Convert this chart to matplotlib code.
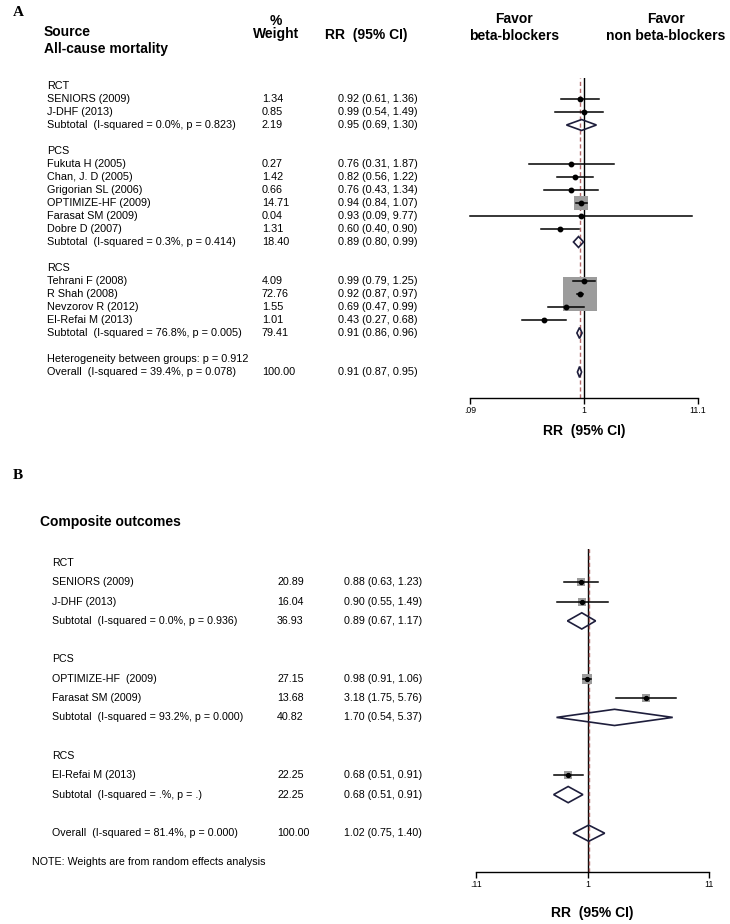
import matplotlib
matplotlib.use("Agg")
import numpy as np
import matplotlib.pyplot as plt
from matplotlib import transforms
from matplotlib.ticker import NullLocator

plt.rcParams['font.family'] = ['Liberation Sans', 'DejaVu Sans']

W, H = 730, 924

# ---- panel A : all-cause mortality ----
a_labels = ["RCT", "SENIORS (2009)", "J-DHF (2013)",
            "Subtotal  (I-squared = 0.0%, p = 0.823)", "",
            "PCS", "Fukuta H (2005)", "Chan, J. D (2005)", "Grigorian SL (2006)",
            "OPTIMIZE-HF (2009)", "Farasat SM (2009)", "Dobre D (2007)",
            "Subtotal  (I-squared = 0.3%, p = 0.414)", "",
            "RCS", "Tehrani F (2008)", "R Shah (2008)", "Nevzorov R (2012)", "El-Refai M (2013)",
            "Subtotal  (I-squared = 76.8%, p = 0.005)", "",
            "Heterogeneity between groups: p = 0.912",
            "Overall  (I-squared = 39.4%, p = 0.078)"]
a_kind = ["head", "study", "study", "sub", "blank",
          "head", "study", "study", "study", "study", "study", "study", "sub", "blank",
          "head", "study", "study", "study", "study", "sub", "blank",
          "head", "sub"]
a_weight = [None, 1.34, 0.85, 2.19, None,
            None, 0.27, 1.42, 0.66, 14.71, 0.04, 1.31, 18.40, None,
            None, 4.09, 72.76, 1.55, 1.01, 79.41, None,
            None, 100.00]
a_rr = [None, 0.92, 0.99, 0.95, None,
        None, 0.76, 0.82, 0.76, 0.94, 0.93, 0.60, 0.89, None,
        None, 0.99, 0.92, 0.69, 0.43, 0.91, None,
        None, 0.91]
a_lo = [None, 0.61, 0.54, 0.69, None,
        None, 0.31, 0.56, 0.43, 0.84, 0.09, 0.40, 0.80, None,
        None, 0.79, 0.87, 0.47, 0.27, 0.86, None,
        None, 0.87]
a_hi = [None, 1.36, 1.49, 1.30, None,
        None, 1.87, 1.22, 1.34, 1.07, 9.77, 0.90, 0.99, None,
        None, 1.25, 0.97, 0.99, 0.68, 0.96, None,
        None, 0.95]
a_ticks = [0.09, 1, 11.1]
a_ticklabels = [".09", "1", "11.1"]

# ---- panel B : composite outcomes ----
b_labels = ["RCT", "SENIORS (2009)", "J-DHF (2013)",
            "Subtotal  (I-squared = 0.0%, p = 0.936)", "",
            "PCS", "OPTIMIZE-HF  (2009)", "Farasat SM (2009)",
            "Subtotal  (I-squared = 93.2%, p = 0.000)", "",
            "RCS", "El-Refai M (2013)", "Subtotal  (I-squared = .%, p = .)", "",
            "Overall  (I-squared = 81.4%, p = 0.000)"]
b_kind = ["head", "study", "study", "sub", "blank",
          "head", "study", "study", "sub", "blank",
          "head", "study", "sub", "blank", "sub"]
b_weight = [None, 20.89, 16.04, 36.93, None,
            None, 27.15, 13.68, 40.82, None,
            None, 22.25, 22.25, None, 100.00]
b_rr = [None, 0.88, 0.90, 0.89, None, None, 0.98, 3.18, 1.70, None, None, 0.68, 0.68, None, 1.02]
b_lo = [None, 0.63, 0.55, 0.67, None, None, 0.91, 1.75, 0.54, None, None, 0.51, 0.51, None, 0.75]
b_hi = [None, 1.23, 1.49, 1.17, None, None, 1.06, 5.76, 5.37, None, None, 0.91, 0.91, None, 1.40]
b_ticks = [0.11, 1, 11]
b_ticklabels = [".11", "1", "11"]


def fx(px):
    return px / W


def fy(py):
    return 1 - py / H


def draw_panel(fig, x0, x1, row0, sp, top_row, bot_row, ticks, ticklabels,
               labels, kinds, weights, rr, lo, hi, cols, box_scale, dot, fs):
    rect = [fx(x0), fy(row0 + bot_row * sp), (x1 - x0) / W, (bot_row - top_row) * sp / H]
    ax = fig.add_axes(rect)
    ax.set_xscale('log')
    ax.set_xlim(ticks[0], ticks[-1])
    ax.set_ylim(bot_row, top_row)
    for s in ['top', 'left', 'right']:
        ax.spines[s].set_visible(False)
    ax.spines['bottom'].set_linewidth(1.0)
    ax.set_yticks([])
    ax.set_xticks(ticks)
    ax.set_xticklabels(ticklabels)
    ax.xaxis.set_minor_locator(NullLocator())
    ax.tick_params(axis='x', length=4, width=1.0, labelsize=6.3, pad=2)
    ax.patch.set_alpha(0)

    overall = rr[-1]
    ax.axvline(1, color='black', lw=1.0, zorder=1)
    ax.axvline(overall, color='#b56b6b', lw=1.0, ls=(0, (3, 2)), zorder=1)

    h = 0.42
    tr = transforms.blended_transform_factory(fig.transFigure, ax.transData)
    for i, lab in enumerate(labels):
        k = kinds[i]
        if k == 'blank':
            continue
        ax.text(fx(cols[0]), i, lab, transform=tr, ha='left', va='center', fontsize=fs)
        if weights[i] is None:
            continue
        ax.text(fx(cols[1]), i, "%.2f" % weights[i], transform=tr, ha='left', va='center', fontsize=fs)
        ax.text(fx(cols[2]), i, "%.2f (%.2f, %.2f)" % (rr[i], lo[i], hi[i]), transform=tr,
                ha='left', va='center', fontsize=fs)
        if k == 'study':
            side = box_scale * np.sqrt(weights[i]) * 0.72
            ax.scatter([rr[i]], [i], s=side ** 2, marker='s', color='#9c9c9c',
                       linewidths=0, zorder=2, clip_on=False)
            ax.plot([lo[i], hi[i]], [i, i], color='black', lw=1.1, zorder=3, clip_on=False)
            ax.plot([rr[i]], [i], 'o', ms=dot, color='black', zorder=4, clip_on=False)
        else:
            ax.fill([lo[i], rr[i], hi[i], rr[i]], [i, i - h, i, i + h], facecolor='none',
                    edgecolor='#1e1e3c', lw=1.2, zorder=3, clip_on=False)
    return ax


fig = plt.figure(figsize=(W / 100, H / 100), dpi=100)

# panel A headers
hfs = 10
fig.text(fx(13), fy(13), "A", fontsize=11, fontweight='bold', family='Liberation Serif', va='center')
fig.text(fx(44), fy(32), "Source", fontsize=hfs, fontweight='bold', va='center')
fig.text(fx(44), fy(49), "All-cause mortality", fontsize=hfs, fontweight='bold', va='center')
fig.text(fx(276), fy(21), "%", fontsize=hfs, fontweight='bold', va='center', ha='center')
fig.text(fx(276), fy(34), "Weight", fontsize=hfs, fontweight='bold', va='center', ha='center')
fig.text(fx(325), fy(35), "RR  (95% CI)", fontsize=hfs, fontweight='bold', va='center')
fig.text(fx(514), fy(19), "Favor", fontsize=hfs, fontweight='bold', va='center', ha='center')
fig.text(fx(514), fy(36), "beta-blockers", fontsize=hfs, fontweight='bold', va='center', ha='center')
fig.text(fx(666), fy(19), "Favor", fontsize=hfs, fontweight='bold', va='center', ha='center')
fig.text(fx(666), fy(36), "non beta-blockers", fontsize=hfs, fontweight='bold', va='center', ha='center')

ax_a = draw_panel(fig, 470, 698, 86, 13, -0.6, 24, a_ticks, a_ticklabels,
                  a_labels, a_kind, a_weight, a_rr, a_lo, a_hi, [47, 262, 338], 3.9, 3.2, 7.8)
ax_a.set_xlabel("RR  (95% CI)", fontsize=hfs, fontweight='bold', labelpad=6.5)

# panel B headers
fig.text(fx(13), fy(475), "B", fontsize=11, fontweight='bold', family='Liberation Serif', va='center')
fig.text(fx(40), fy(522), "Composite outcomes", fontsize=hfs, fontweight='bold', va='center')

ax_b = draw_panel(fig, 476, 709, 563, 19.3, -0.73, 16, b_ticks, b_ticklabels,
                  b_labels, b_kind, b_weight, b_rr, b_lo, b_hi, [52, 277, 344], 1.9, 2.8, 7.7)
ax_b.set_xlabel("RR  (95% CI)", fontsize=hfs, fontweight='bold', labelpad=12.5)
fig.text(fx(32), fy(862), "NOTE: Weights are from random effects analysis", fontsize=7.7, va='center')

fig.savefig("out.png", dpi=100)
